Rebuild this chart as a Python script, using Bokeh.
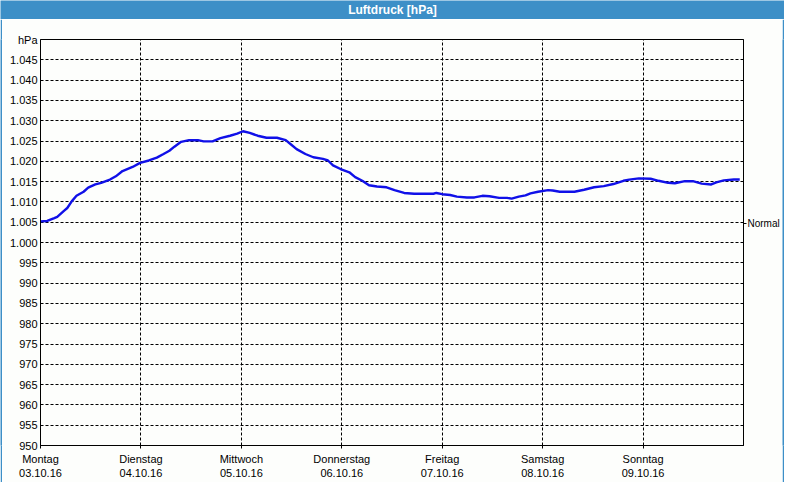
from bokeh.plotting import figure
from bokeh.layouts import column, row
from bokeh.models import Range1d, FixedTicker, LinearAxis, Label
from bokeh.embed import file_html
from bokeh.resources import INLINE

title_text = "Luftdruck [hPa]"
unit_label = "hPa"
normal_label = "Normal"
normal_value = 1004.7

day_names = ["Montag", "Dienstag", "Mittwoch", "Donnerstag", "Freitag", "Samstag", "Sonntag"]
day_dates = ["03.10.16", "04.10.16", "05.10.16", "06.10.16", "07.10.16", "08.10.16", "09.10.16"]
day_hours = [0, 24, 48, 72, 96, 120, 144]
x_end = 168

y_ticks = [950, 955, 960, 965, 970, 975, 980, 985, 990, 995, 1000,
           1005, 1010, 1015, 1020, 1025, 1030, 1035, 1040, 1045, 1050]

hours = [0.0, 1.6, 3.3, 4.0, 5.6, 6.4, 7.5, 8.6, 10.3, 11.4, 13.1, 14.5, 16.6, 18.0, 19.6,
         22.0, 23.8, 25.9, 27.8, 29.4, 30.8, 32.0, 33.6, 35.5, 37.6, 39.0, 41.1, 43.0, 45.3,
         47.0, 48.4, 50.0, 51.9, 54.0, 56.5, 58.6, 59.8, 61.2, 63.3, 65.2, 67.5, 68.7, 69.9,
         71.7, 73.8, 75.2, 76.9, 78.5, 80.4, 82.7, 84.6, 86.9, 89.3, 93.9, 94.6, 96.0, 97.9,
         99.5, 101.9, 103.7, 105.6, 107.3, 109.6, 111.5, 112.6, 114.3, 115.9, 117.1, 118.9,
         121.3, 122.4, 124.1, 127.6, 129.9, 132.3, 134.6, 136.9, 139.3, 140.7, 143.0, 145.8,
         147.7, 150.0, 151.6, 154.0, 155.9, 158.0, 160.3, 161.5, 163.3, 165.7, 167.1]
pressure = [1005.2, 1005.3, 1006.0, 1006.3, 1007.8, 1008.5, 1010.2, 1011.5, 1012.5, 1013.5,
            1014.3, 1014.7, 1015.5, 1016.3, 1017.6, 1018.6, 1019.6, 1020.2, 1020.9, 1021.8,
            1022.6, 1023.6, 1024.8, 1025.2, 1025.2, 1024.9, 1024.9, 1025.7, 1026.3, 1026.8,
            1027.4, 1027.0, 1026.3, 1025.8, 1025.8, 1025.2, 1024.2, 1023.0, 1021.8, 1021.0,
            1020.6, 1020.2, 1019.0, 1018.1, 1017.3, 1016.1, 1015.2, 1014.1, 1013.8, 1013.6,
            1012.9, 1012.2, 1012.0, 1012.0, 1012.2, 1011.9, 1011.7, 1011.3, 1011.1, 1011.1,
            1011.5, 1011.4, 1011.0, 1011.0, 1010.8, 1011.3, 1011.6, 1012.1, 1012.5, 1012.9,
            1012.8, 1012.5, 1012.5, 1013.0, 1013.6, 1013.9, 1014.4, 1015.2, 1015.5, 1015.8,
            1015.7, 1015.2, 1014.7, 1014.6, 1015.1, 1015.1, 1014.5, 1014.3, 1014.8, 1015.3,
            1015.5, 1015.5]

BAR_BLUE = "#3D8FC7"
BG = "#FDFEFC"
LINE_BLUE = "#1010E8"
FONT = "Liberation Sans"

W, H = 784, 484
TITLE_H = 19
EDGE = 2


def strip(w, h):
    s = figure(width=w, height=h, x_range=Range1d(0, 1), y_range=Range1d(0, 1),
               x_axis_type=None, y_axis_type=None, output_backend="svg",
               toolbar_location=None, min_border=0)
    s.grid.visible = False
    s.background_fill_color = BAR_BLUE
    s.border_fill_color = BAR_BLUE
    s.outline_line_color = None
    return s


# ---- title bar ----
t = strip(W, TITLE_H)
t.add_layout(Label(x=0.5, y=0.5, text=title_text, text_align="center",
                   text_baseline="middle", text_color="white", text_font=FONT,
                   text_font_style="bold", text_font_size="12px"))

# ---- main chart ----
PW = W - 2 * EDGE
PH = H - TITLE_H - EDGE
p = figure(width=PW, height=PH, x_range=Range1d(0, x_end), y_range=Range1d(y_ticks[0], y_ticks[-1]),
           output_backend="svg", toolbar_location=None,
           min_border_left=38, min_border_right=37, min_border_top=20, min_border_bottom=37)
p.background_fill_color = BG
p.border_fill_color = BG
p.outline_line_color = "black"
p.outline_line_alpha = 1.0
p.outline_line_width = 1

p.line(hours, pressure, line_color=LINE_BLUE, line_width=2.4)

# y axis
ylab = {}
for v in y_ticks:
    ylab[v] = f"{v:,}".replace(",", ".")
ylab[y_ticks[-1]] = unit_label
p.yaxis.ticker = FixedTicker(ticks=y_ticks)
p.yaxis.major_label_overrides = ylab
p.yaxis.major_tick_out = 0
p.yaxis.major_tick_in = 0
p.yaxis.minor_tick_out = 0
p.yaxis.minor_tick_in = 0
p.yaxis.major_label_standoff = 3
p.yaxis.axis_line_color = "black"
p.yaxis.major_label_text_font = FONT
p.yaxis.major_label_text_font_size = "11px"
p.yaxis.major_label_text_color = "black"

# x axis
xlab = {h: f"{n}\n{d}" for h, n, d in zip(day_hours, day_names, day_dates)}
p.xaxis.ticker = FixedTicker(ticks=day_hours)
p.xaxis.major_label_overrides = xlab
p.xaxis.major_tick_out = 3
p.xaxis.major_tick_in = 0
p.xaxis.minor_tick_out = 0
p.xaxis.minor_tick_in = 0
p.xaxis.major_tick_line_color = "black"
p.xaxis.major_tick_line_dash = "3 2"
p.xaxis.major_label_standoff = 4
p.xaxis.axis_line_color = "black"
p.xaxis.major_label_text_font = FONT
p.xaxis.major_label_text_font_size = "11px"
p.xaxis.major_label_text_color = "black"

# right "Normal" axis
ra = LinearAxis(ticker=FixedTicker(ticks=[normal_value]),
                major_label_overrides={normal_value: normal_label},
                major_tick_out=3, major_tick_in=0, minor_tick_out=0, minor_tick_in=0,
                major_label_standoff=1, axis_line_color="black",
                major_label_text_font=FONT, major_label_text_font_size="10px",
                major_label_text_color="black")
p.add_layout(ra, "right")

# grids
p.xgrid.ticker = FixedTicker(ticks=day_hours[1:])
p.ygrid.ticker = FixedTicker(ticks=y_ticks[1:-1])
for g in (p.xgrid, p.ygrid):
    g.grid_line_color = "black"
    g.grid_line_dash = "3 2"
    g.grid_line_width = 1
    g.grid_line_alpha = 1.0

layout = column(t, row(strip(EDGE, PH), p, strip(EDGE, PH), spacing=0), strip(W, EDGE), spacing=0)
open("out.html", "w").write(file_html(layout, INLINE))
